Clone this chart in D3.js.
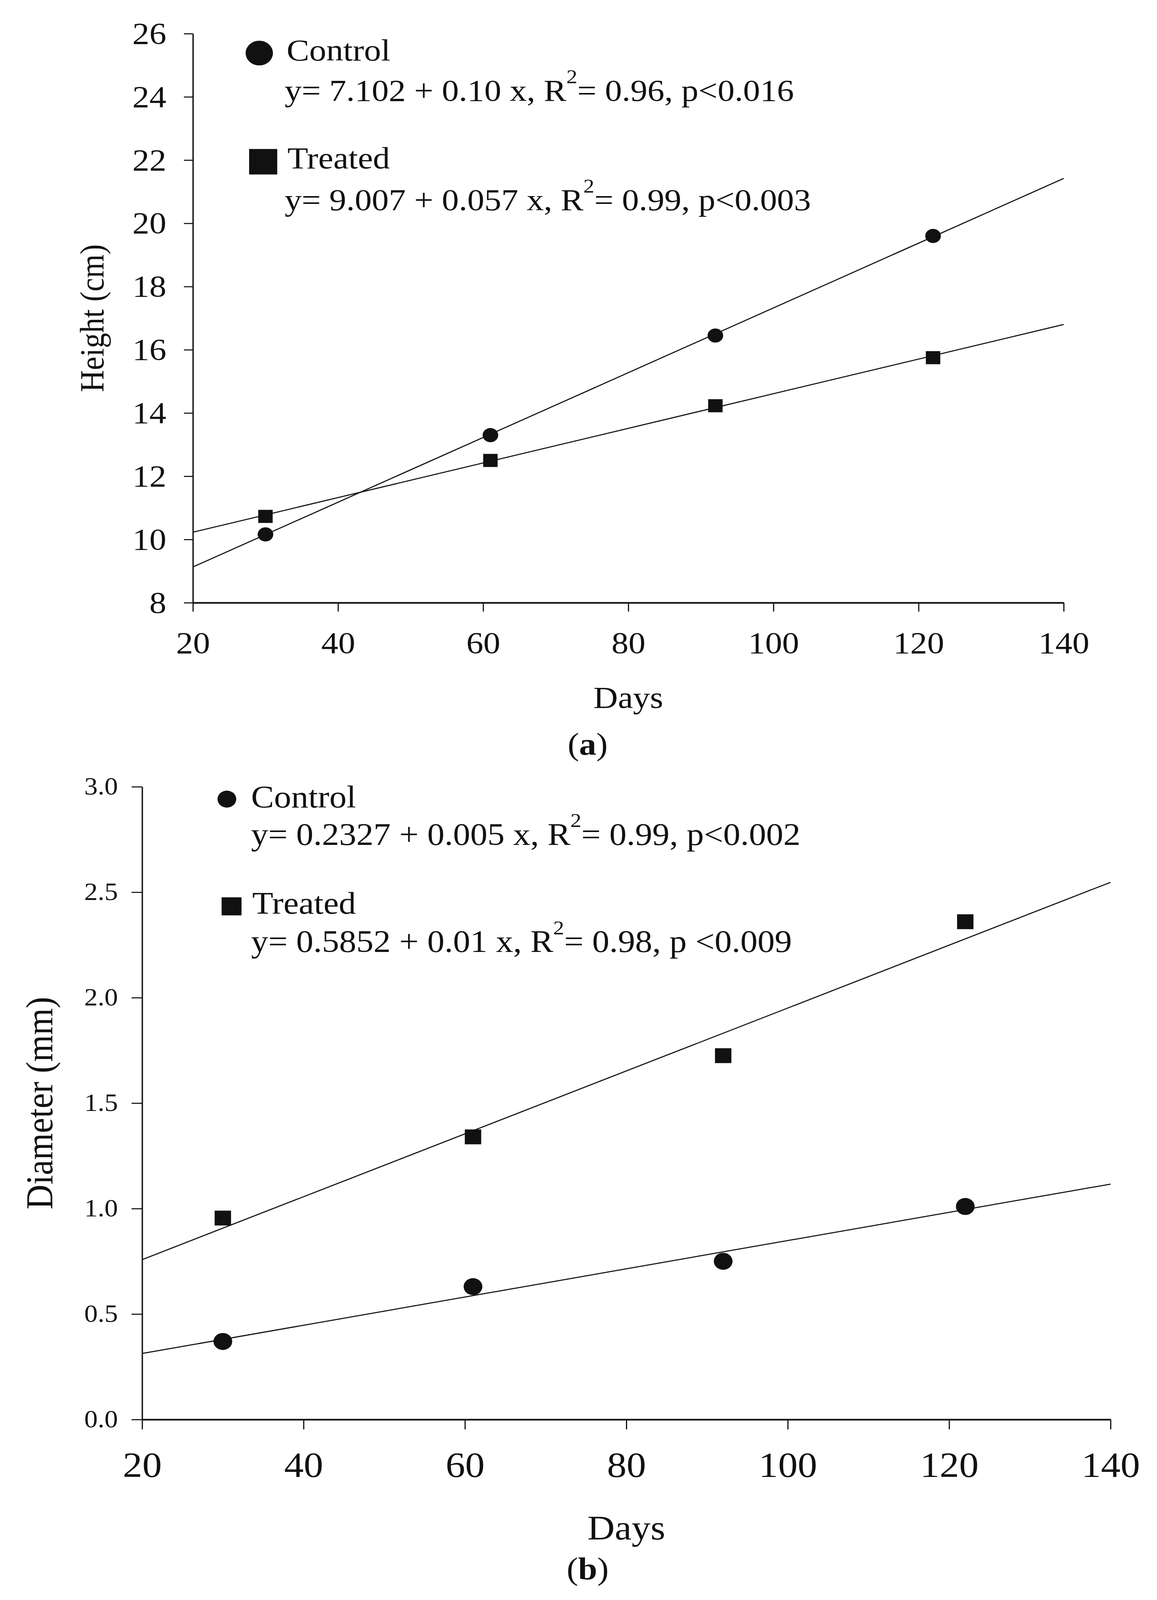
<!DOCTYPE html>
<html>
<head>
<meta charset="utf-8">
<script src="https://cdn.jsdelivr.net/npm/d3@7"></script>
<style>
  html, body { margin: 0; padding: 0; background: #fff; overflow: hidden; }
  svg { display: block; }
  svg text { font-family: "Liberation Serif", "Times New Roman", serif; fill: #111; }
</style>
</head>
<body>
<svg id="fig"></svg>
<script>
"use strict";

// ---- data ----
const days = [30, 61, 92, 122];
const heightControl = [10.16, 13.3, 16.45, 19.6];
const heightTreated = [10.73, 12.5, 14.23, 15.75];
const diamControl = [0.37, 0.63, 0.75, 1.01];
const diamTreated = [0.955, 1.34, 1.725, 2.36];

// fitted lines, drawn across the whole x range
const fitDays = [20, 140];
const heightControlFit = [9.13, 21.42];
const heightTreatedFit = [10.23, 16.80];
const diamControlFit = [0.313, 1.116];
const diamTreatedFit = [0.758, 2.547];

const dayTicks = [20, 40, 60, 80, 100, 120, 140];
const heightTicks = [8, 10, 12, 14, 16, 18, 20, 22, 24, 26];
const diamTicks = [0, 0.5, 1.0, 1.5, 2.0, 2.5, 3.0];

const legendA = [
  {name: "Control", shape: "circle", eq: ["y= 7.102 + 0.10 x, R", "2", "= 0.96, p<0.016"]},
  {name: "Treated", shape: "square", eq: ["y= 9.007 + 0.057 x, R", "2", "= 0.99, p<0.003"]}
];
const legendB = [
  {name: "Control", shape: "circle", eq: ["y= 0.2327 + 0.005 x, R", "2", "= 0.99, p<0.002"]},
  {name: "Treated", shape: "square", eq: ["y= 0.5852 + 0.01 x, R", "2", "= 0.98, p <0.009"]}
];

const W = 2963, H = 4521;
const ink = "#111";

/* drawing is done in the 2963x4521 frame, then fitted to the window */
let svg = d3.select('svg#fig')
  .attr('viewBox', `0 0 ${W} ${H}`)
  .attr('preserveAspectRatio', 'none')
  .attr('width', window.innerWidth || W)
  .attr('height', window.innerHeight || H);

svg.append('rect').attr('width', W).attr('height', H).attr('fill', '#fff');

function drawPanel(p) {
  let x = d3.scaleLinear().domain([20, 140]).range([p.left, p.right]);
  let y = d3.scaleLinear().domain(p.yDomain).range([p.bottom, p.top]);
  let g = svg.append('g');

  /* y axis */
  let yAxis = d3.axisLeft(y)
    .tickValues(p.yTicks)
    .tickFormat(p.yFormat)
    .tickSizeInner(p.yTickLen)
    .tickSizeOuter(0)
    .tickPadding(p.yPad);
  let ya = g.append('g').attr('transform', `translate(${p.left},0)`).call(yAxis);
  ya.select('.domain').attr('stroke', ink).attr('stroke-width', 3.5);
  ya.selectAll('.tick line').attr('stroke', ink).attr('stroke-width', 3);
  ya.selectAll('.tick text')
    .style('font-size', `${p.yFont}px`)
    .attr('font-family', null);

  /* x axis */
  let xAxis = d3.axisBottom(x)
    .tickValues(dayTicks)
    .tickSizeInner(p.xTickLen)
    .tickSizeOuter(0)
    .tickPadding(p.xPad);
  let xa = g.append('g').attr('transform', `translate(0,${p.bottom})`).call(xAxis);
  xa.select('.domain').attr('stroke', ink).attr('stroke-width', 4.5);
  xa.selectAll('.tick line').attr('stroke', ink).attr('stroke-width', 3);
  xa.selectAll('.tick text')
    .style('font-size', `${p.xFont}px`)
    .attr('font-family', null);

  /* axis titles */
  g.append('text')
    .attr('text-anchor', 'middle')
    .attr('x', (p.left + p.right) / 2)
    .attr('y', p.daysY)
    .style('font-size', `${p.daysFont}px`)
    .text('Days');

  g.append('text')
    .attr('text-anchor', 'middle')
    .attr('transform', `translate(${p.yTitleX},${(p.top + p.bottom) / 2}) rotate(-90)`)
    .style('font-size', `${p.yTitleFont}px`)
    .text(p.yTitle);

  /* panel letter */
  let lt = g.append('text')
    .attr('text-anchor', 'middle')
    .attr('x', p.letterX)
    .attr('y', p.letterY)
    .style('font-size', `${p.letterFont}px`);
  lt.append('tspan').text('(');
  lt.append('tspan').attr('font-weight', 'bold').text(p.letter);
  lt.append('tspan').text(')');

  /* fitted lines */
  let line = d3.line().x(d => x(d[0])).y(d => y(d[1]));
  for (let fit of p.fits) {
    g.append('path')
      .datum(d3.zip(fitDays, fit))
      .attr('d', line)
      .attr('fill', 'none')
      .attr('stroke', ink)
      .attr('stroke-width', 3);
  }

  /* points */
  g.selectAll('circle.pt')
    .data(d3.zip(days, p.control))
    .enter()
    .append('circle')
    .attr('class', 'pt')
    .attr('cx', d => x(d[0]))
    .attr('cy', d => y(d[1]))
    .attr('r', p.circleR)
    .attr('fill', ink);

  g.selectAll('rect.pt')
    .data(d3.zip(days, p.treated))
    .enter()
    .append('rect')
    .attr('class', 'pt')
    .attr('x', d => x(d[0]) - p.squareS / 2)
    .attr('y', d => y(d[1]) - p.squareS / 2)
    .attr('width', p.squareS)
    .attr('height', p.squareS)
    .attr('fill', ink);

  /* legend */
  p.legend.forEach((item, i) => {
    let L = p.legendPos[i];
    if (item.shape === 'circle') {
      g.append('circle')
        .attr('cx', L.mx).attr('cy', L.my).attr('r', L.ms / 2)
        .attr('fill', ink);
    } else {
      g.append('rect')
        .attr('x', L.mx - L.ms / 2).attr('y', L.my - L.ms / 2)
        .attr('width', L.ms).attr('height', L.ms)
        .attr('fill', ink);
    }
    g.append('text')
      .attr('x', L.nameX).attr('y', L.nameY)
      .style('font-size', `${p.legendFont}px`)
      .text(item.name);
    let eq = g.append('text')
      .attr('x', L.eqX).attr('y', L.eqY)
      .style('font-size', `${p.legendFont}px`);
    eq.append('tspan').text(item.eq[0]);
    eq.append('tspan')
      .attr('dy', -p.supRise)
      .style('font-size', `${p.supFont}px`)
      .text(item.eq[1]);
    eq.append('tspan')
      .attr('dy', p.supRise)
      .text(item.eq[2]);
  });
}

drawPanel({
  left: 494, right: 2724, top: 95, bottom: 1703,
  yDomain: [8, 26], yTicks: heightTicks, yFormat: d3.format('d'),
  yTickLen: 23, yPad: 45, yFont: 87,
  xTickLen: 25, xPad: 56, xFont: 87,
  daysY: 2000, daysFont: 87,
  yTitle: 'Height (cm)', yTitleX: 265, yTitleFont: 86,
  letter: 'a', letterX: 1505, letterY: 2132, letterFont: 88,
  fits: [heightControlFit, heightTreatedFit],
  control: heightControl, treated: heightTreated,
  circleR: 20, squareS: 37,
  legend: legendA, legendFont: 87, supFont: 56, supRise: 50,
  legendPos: [
    {mx: 664, my: 150, ms: 70, nameX: 734, nameY: 171, eqX: 729, eqY: 285},
    {mx: 674, my: 457, ms: 72, nameX: 736, nameY: 476, eqX: 729, eqY: 594}
  ]
});

drawPanel({
  left: 364, right: 2844, top: 2223, bottom: 4011,
  yDomain: [0, 3], yTicks: diamTicks, yFormat: d3.format('.1f'),
  yTickLen: 27, yPad: 35, yFont: 69,
  xTickLen: 28, xPad: 63, xFont: 100,
  daysY: 4350, daysFont: 97,
  yTitle: 'Diameter (mm)', yTitleX: 134, yTitleFont: 97,
  letter: 'b', letterX: 1505, letterY: 4462, letterFont: 88,
  fits: [diamControlFit, diamTreatedFit],
  control: diamControl, treated: diamTreated,
  circleR: 24, squareS: 42,
  legend: legendB, legendFont: 88, supFont: 56, supRise: 50,
  legendPos: [
    {mx: 581, my: 2258, ms: 48, nameX: 643, nameY: 2282, eqX: 643, eqY: 2387},
    {mx: 593, my: 2561, ms: 51, nameX: 646, nameY: 2582, eqX: 643, eqY: 2690}
  ]
});
</script>
</body>
</html>
